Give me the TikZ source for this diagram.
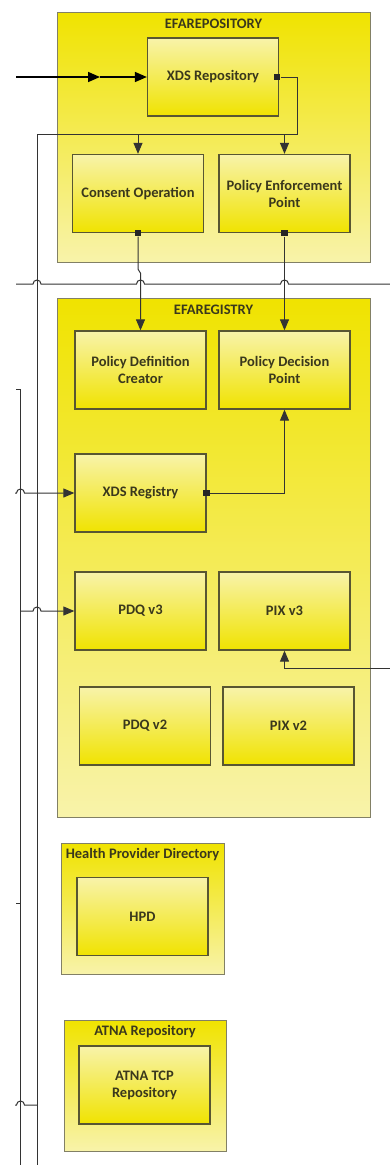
\documentclass[tikz,border=0pt]{standalone}
\usepackage{fontspec}
\setmainfont{Carlito}
\usetikzlibrary{arrows.meta}
\definecolor{ybright}{RGB}{240,227,0}
\definecolor{ypale}{RGB}{248,243,170}
\definecolor{rim}{RGB}{88,86,50}
\definecolor{ink}{RGB}{58,56,28}
\begin{document}
\begin{tikzpicture}[x=1pt,y=-1pt,font=\fontsize{14.5}{17}\selectfont\bfseries,
  group/.style 2 args={draw=rim!75,line width=1pt,top color=ybright,bottom color=ypale,minimum width=#1,minimum height=#2,inner sep=0pt},
  title/.style={text=ink,inner sep=0pt},
  unit/.style={draw=rim,line width=1.3pt,top color=ypale,bottom color=ybright,minimum width=131pt,minimum height=78pt,align=center,text=ink,inner sep=0pt},
  marker/.style={fill=black!85,minimum size=6.5pt,inner sep=0pt},
  wire/.style={draw=black!80,line width=1pt},
  flow/.style={wire,-{Triangle[length=11pt,width=9pt]}}]
\fill[white] (0,0) rectangle (390,1165);
\useasboundingbox (0,0) rectangle (390,1165);
% EFAREPOSITORY
\node[group={313pt}{250pt}] (repo) at (213.5,137) {};
\node[title] (repotitle) at (213.5,24) {EFAREPOSITORY};
\node[unit] (xdsrep) at (213,77) {XDS Repository};
\node[unit] (consent) at (138,193.5) {Consent Operation};
\node[unit] (pep) at (284.5,193.5) {Policy Enforcement\\Point};
% EFAREGISTRY
\node[group={313pt}{519pt}] (reg) at (213.5,557.5) {};
\node[title] (regtitle) at (213.5,310) {EFAREGISTRY};
\node[unit] (pdc) at (140.5,370) {Policy Definition\\Creator};
\node[unit] (pdp) at (284.5,370) {Policy Decision\\Point};
\node[unit] (xdsreg) at (140.5,493) {XDS Registry};
\node[unit] (pdqiii) at (140.5,611) {PDQ v3};
\node[unit] (pixiii) at (284.5,611) {PIX v3};
\node[unit] (pdqii) at (145,726) {PDQ v2};
\node[unit] (pixii) at (288.5,726) {PIX v2};
% directory and audit
\node[group={163pt}{131pt}] (hpdgrp) at (142.5,908.5) {};
\node[title] (hpdtitle) at (142.5,855) {Health Provider Directory};
\node[unit] (hpd) at (142.5,916.5) {HPD};
\node[group={162pt}{131pt}] (atnagrp) at (145,1085.5) {};
\node[title] (atnatitle) at (145,1032) {ATNA Repository};
\node[unit] (atna) at (144.5,1085) {ATNA TCP\\Repository};
% connectors
\coordinate (inL) at (16,77); \coordinate (inM) at (100,77);
\draw[flow,line width=1.6pt,draw=black,-{Triangle[length=12pt,width=10pt]}] (inL) -- (inM);
\draw[flow,line width=1.6pt,draw=black,-{Triangle[length=12pt,width=10pt]}] (inM) -- (xdsrep.west);
\node[marker] (mrep) at ([xshift=-2pt]xdsrep.east) {};
\node[marker] (mcon) at (consent.south) {};
\node[marker] (mpep) at (pep.south) {};
\node[marker] (mreg) at (xdsreg.east) {};
\coordinate (busR) at (297,134); \coordinate (busL) at (37,134); \coordinate (busEnd) at (37,1165);
\draw[wire] (mrep) -| (busR) -- (busL) -- (busEnd);
\draw[flow] (consent.north |- busR) -- (consent.north);
\draw[flow] (pep.north |- busR) -- (pep.north);
\coordinate (crossL) at (16,284); \coordinate (crossR) at (390,284);
\draw[wire] (crossL) \foreach \x in {37,140.5,284.5}{ -- (\x-4,284) arc[start angle=180,end angle=360,radius=4]} -- (crossR);
\draw[flow] (mcon) -- ++(0,36) -- ++(2.5,4) -- (pdc.north);
\draw[flow] (mpep) -- (pdp.north);
\draw[flow] (mreg) -| (pdp.south);
\coordinate (pixIn) at (390,668);
\draw[flow] (pixIn) -| (pixiii.south);
\coordinate (lineBtop) at (16,389); \coordinate (lineBend) at (20,1165);
\draw[wire] (lineBtop) -| (lineBend);
\coordinate (stub) at (16,903);
\draw[wire] (stub) -- (lineBend |- stub);
\coordinate (regIn) at (15,493);
\draw[flow] (regIn) -- (16.5,493) arc[start angle=180,end angle=360,radius=4] -- (xdsreg.west);
\draw[flow] (lineBend |- pdqiii.west) -- (33,611) arc[start angle=180,end angle=360,radius=4] -- (pdqiii.west);
\coordinate (atnaIn) at (15,1105);
\draw[wire] (atnaIn) -- (16.5,1105) arc[start angle=180,end angle=360,radius=4] -- (busEnd |- atnaIn);
\end{tikzpicture}
\end{document}
